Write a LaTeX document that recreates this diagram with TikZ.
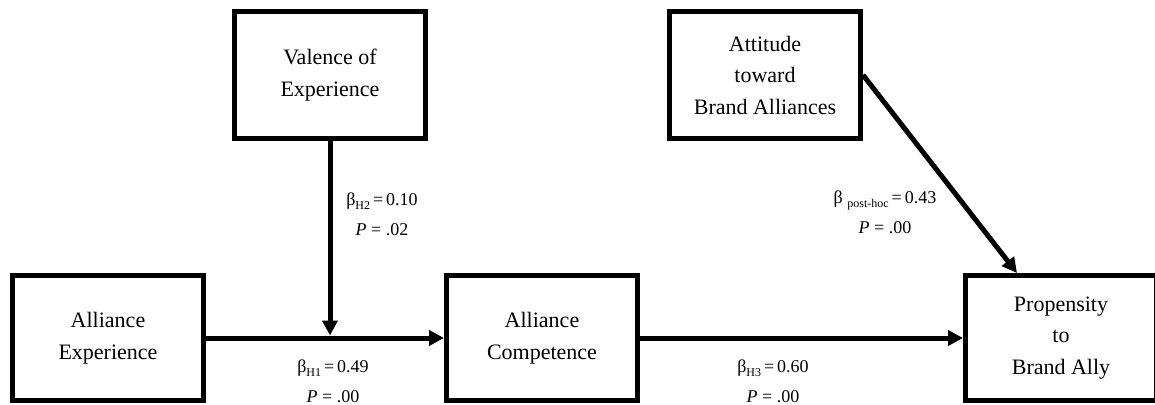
\documentclass[tikz,border=0pt]{standalone}
\usepackage{fontspec}
\setmainfont{Liberation Serif}
\usetikzlibrary{arrows.meta}

% lowered small subscript for the path coefficients
\newcommand\coefsub[1]{\raisebox{-4pt}{\fontsize{12}{12}\selectfont #1}}

\tikzset{
  construct/.style={draw, line width=5pt, minimum width=191pt, minimum height=127pt,
    inner sep=0pt, align=center, font=\fontsize{22}{31.5}\selectfont},
  path/.style={line width=5pt, -{Triangle[length=15pt,width=15pt]}},
  % anchored at the baseline of the last line
  coef/.style={align=center, inner sep=0pt, anchor=base, font=\fontsize{18}{30}\selectfont},
}

\begin{document}
\begin{tikzpicture}[x=1pt, y=-1pt]
\useasboundingbox (0,0) rectangle (1155,404);

% constructs
\node[construct] (val)  at (330,75)  {Valence of\\Experience};
\node[construct] (att)  at (765,75)  {Attitude\\toward\\Brand Alliances};
\node[construct, minimum height=125pt] (exp)  at (108,338) {Alliance\\Experience};
\node[construct, minimum height=125pt] (comp) at (542,338) {Alliance\\Competence};
\node[construct, minimum height=125pt] (prop) at (1061,338) {Propensity\\to\\Brand Ally};

% paths
\coordinate (mod) at (val.south |- exp.east);
\draw[path] (exp.east) -- (comp.west);
\draw[path] (val.south) -- ([yshift=2.5pt]mod);
\draw[path] (comp.east) -- (prop.west);
\draw[path] (att.east) -- ([xshift=54pt]prop.north west);

% coefficients
\node[coef] (h2) at (382,235) {β\coefsub{H2}\,=\,0.10\\\textit{P} = .02};
\node[coef] (h1) at (333,402.5) {β\coefsub{H1}\,=\,0.49\\\textit{P} = .00};
\node[coef] (h3) at (773,402.5) {β\coefsub{H3}\,=\,0.60\\\textit{P} = .00};
\node[coef] (ph) at (885,233) {β \coefsub{post-hoc}\,=\,0.43\\\textit{P} = .00};
\end{tikzpicture}
\end{document}
